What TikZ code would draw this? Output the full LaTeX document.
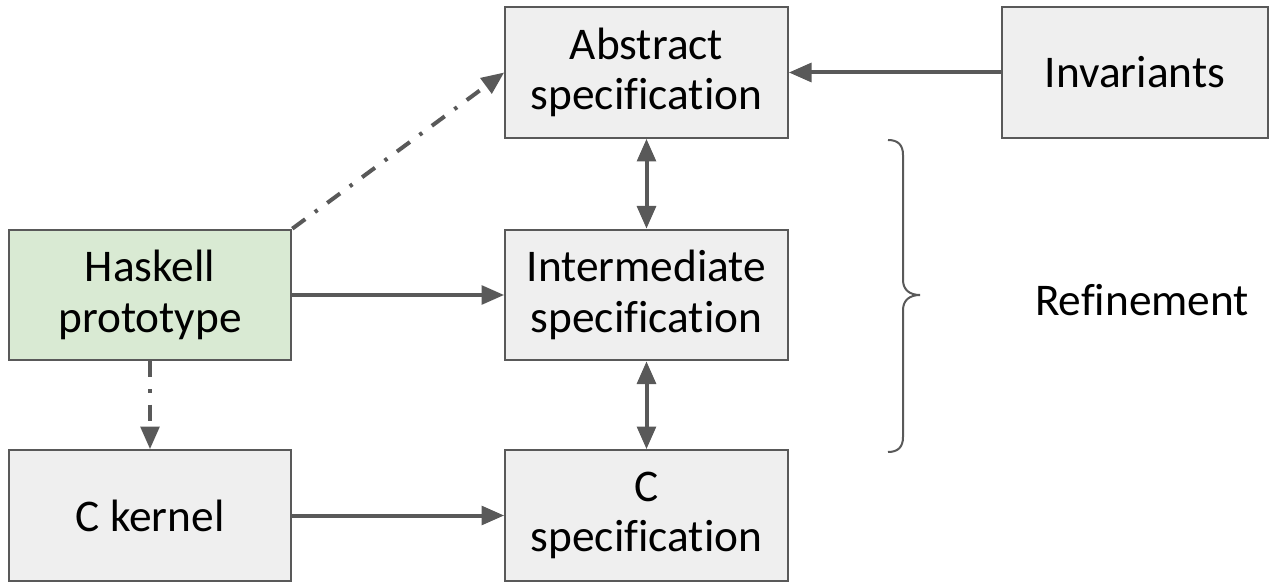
\documentclass[tikz,border=0pt]{standalone}
\usepackage{fontspec}
\setmainfont{Carlito}[Ligatures=NoCommon]
\usetikzlibrary{arrows.meta}
\definecolor{lineg}{HTML}{595959}
\definecolor{boxg}{HTML}{EFEFEF}
\definecolor{boxgreen}{HTML}{D9EAD3}
\begin{document}
\begin{tikzpicture}[x=0.75pt,y=-0.75pt,
  box/.style={draw=lineg, fill=boxg, line width=1.5pt, minimum width=212pt, minimum height=98pt,
    align=center, inner sep=0pt, font=\fontsize{34}{38}\selectfont},
  tip/.style={Triangle[length=17pt,width=14pt]},
  conn/.style={draw=lineg, line width=3pt, -{Triangle[length=17pt,width=14pt]}},
  dconn/.style={conn, dash pattern=on 12pt off 9pt on 2.5pt off 9pt},
  dual/.style={conn, {Triangle[length=17pt,width=14pt]}-{Triangle[length=17pt,width=14pt]}}
]
\useasboundingbox (0,0) rectangle (1270,584);
\node[box] (abs) at (646.5,72.5) {Abstract\\specification};
\node[box, minimum width=199pt] (inv) at (1135,72.5) {Invariants};
\node[box, fill=boxgreen] (hask) at (150,295) {Haskell\\prototype};
\node[box] (inter) at (646.5,295) {Intermediate\\specification};
\node[box] (ck) at (150,515.5) {C kernel};
\node[box] (cs) at (646.5,515.5) {C\\specification};
\node[font=\fontsize{34}{38}\selectfont] (ref) at (1142,300) {Refinement};

\draw[conn] (inv.west) -- (abs.east);
\draw[conn] (hask.east) -- (inter.west);
\draw[conn] (ck.east) -- (cs.west);
\draw[dual] (abs.south) -- (inter.north);
\draw[dual] (inter.south) -- (cs.north);
\draw[dconn] (hask.south) -- (ck.north);
\draw[dconn] (hask.north east) -- (abs.west);

\draw[lineg, line width=1.5pt] (888,140) .. controls (898,140) and (903,145) .. (903,155)
  -- (903,280) .. controls (903,290) and (910,295) .. (920,295)
  .. controls (910,295) and (903,300) .. (903,310)
  -- (903,437) .. controls (903,447) and (898,452) .. (888,452);
\end{tikzpicture}
\end{document}
